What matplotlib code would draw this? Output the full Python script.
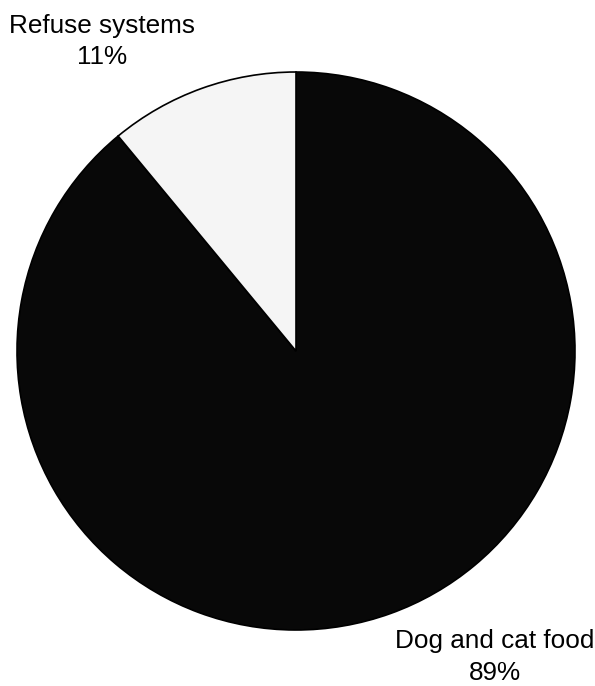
import matplotlib
matplotlib.use("Agg")
import matplotlib.pyplot as plt

plt.rcParams["font.family"] = ["Liberation Sans", "DejaVu Sans"]

categorias = ["Dog and cat food", "Refuse systems"]
percentuais = [89, 11]
cores = ["#080808", "#f5f5f5"]

# posicoes dos rotulos (coordenadas do eixo, raio = 1)
rotulo_xy = [(0.713, -1.097), (-0.695, 1.109)]

fig = plt.figure(figsize=(5.95, 6.86), dpi=100)
ax = fig.add_axes([17 / 595, 56 / 686, 558 / 595, 558 / 686])

ax.pie(percentuais, colors=cores, startangle=90, counterclock=False,
       radius=1, wedgeprops=dict(edgecolor="black", linewidth=1.2))
ax.set_xlim(-1, 1)
ax.set_ylim(-1, 1)
ax.set_aspect("equal")
ax.axis("off")

for (x, y), cat, p in zip(rotulo_xy, categorias, percentuais):
    ax.text(x, y, f"{cat}\n{p}%", ha="center", va="center",
            multialignment="center", fontsize=18.8, linespacing=1.4)

fig.savefig("out.png", dpi=100)
